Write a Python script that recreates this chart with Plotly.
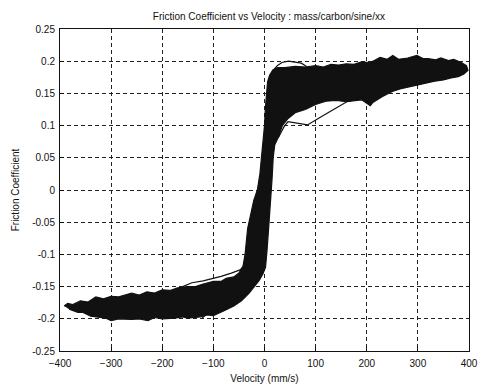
import plotly.graph_objects as go

# Envelope of the measured friction/velocity loops (traced clockwise)
band_velocity = [-392, -385, -375, -360, -345, -330, -315, -300, -285, -260, -245, -230, -215, -200,
                 -185, -170, -150, -135, -120, -100, -85, -75, -60, -50,
                 -42, -38, -33, -27, -21, -14, -9, -6, -3, 0, 2, 4, 6, 10, 16, 25, 40, 60,
                 80, 100, 115, 130, 145, 160, 175, 190, 205, 215, 226, 240, 251, 262, 280, 298, 310,
                 320, 335, 345, 360, 370, 385, 395,
                 398, 390, 379, 365, 350, 333, 315, 295, 280, 265, 250, 230, 212, 207, 190, 175, 160,
                 140, 120, 100, 80, 60, 45, 35, 27, 20, 17, 15, 12, 8, 5, 2, -3, -10, -20, -30,
                 -45, -60, -80, -100, -112, -125, -150, -160, -175, -200, -215, -228, -245, -260,
                 -285, -300, -310, -325, -340, -355, -365, -382]
band_friction = [-0.180, -0.176, -0.178, -0.172, -0.174, -0.166, -0.169, -0.165, -0.166, -0.160,
                 -0.163, -0.158, -0.160, -0.155, -0.156, -0.152, -0.150, -0.150, -0.146, -0.142,
                 -0.142, -0.137, -0.135, -0.129,
                 -0.118, -0.100, -0.060, -0.035, -0.016, 0.000, 0.025, 0.050, 0.075, 0.100,
                 0.130, 0.155, 0.168, 0.178, 0.186, 0.190, 0.190, 0.192,
                 0.191, 0.193, 0.191, 0.195, 0.194, 0.196, 0.195, 0.199, 0.198, 0.201, 0.206,
                 0.203, 0.209, 0.203, 0.205, 0.209, 0.204,
                 0.204, 0.202, 0.205, 0.201, 0.203, 0.198, 0.193,
                 0.186, 0.180, 0.176, 0.174, 0.171, 0.169, 0.166, 0.163, 0.160, 0.157, 0.153,
                 0.145, 0.136, 0.131, 0.140, 0.138, 0.137, 0.139, 0.138, 0.133, 0.125, 0.120,
                 0.110, 0.100, 0.082, 0.070, 0.050, 0.020, -0.020, -0.060, -0.093, -0.120,
                 -0.130, -0.140, -0.150, -0.160,
                 -0.172, -0.180, -0.188, -0.195, -0.194, -0.197, -0.199, -0.197, -0.199, -0.200,
                 -0.198, -0.203, -0.200, -0.201, -0.200, -0.203, -0.199, -0.197, -0.196, -0.190,
                 -0.190, -0.185]

# Individual stray loops visible as outlines
strayA_velocity = [27, 38, 46, 65, 84, 120, 161, 212]
strayA_friction = [0.081, 0.098, 0.106, 0.103, 0.101, 0.118, 0.137, 0.147]
strayB_velocity = [11, 14, 17, 25, 34, 47, 60, 72, 80, 94]
strayB_friction = [0.160, 0.175, 0.186, 0.193, 0.198, 0.200, 0.199, 0.197, 0.193, 0.183]
strayC_velocity = [-160, -142, -120, -104, -85, -65, -48, -36, -28, -25]
strayC_friction = [-0.150, -0.144, -0.141, -0.138, -0.134, -0.129, -0.124, -0.116, -0.105, -0.093]
strayD_velocity = [-122, -109, -94, -82, -71, -59, -50, -36, -25, -13, -5]
strayD_friction = [-0.199, -0.190, -0.182, -0.185, -0.174, -0.178, -0.166, -0.160, -0.152, -0.140, -0.125]

x_ticks = [-400, -300, -200, -100, 0, 100, 200, 300, 400]
y_ticks = [-0.25, -0.2, -0.15, -0.1, -0.05, 0, 0.05, 0.1, 0.15, 0.2, 0.25]
y_tick_labels = ["-0.25", "-0.2", "-0.15", "-0.1", "-0.05", "0", "0.05", "0.1", "0.15", "0.2", "0.25"]

fig = go.Figure()
fig.add_trace(go.Scatter(x=band_velocity, y=band_friction, mode="lines", fill="toself",
                         fillcolor="#111111", line=dict(color="#111111", width=1.2),
                         hoverinfo="skip", showlegend=False))
for vx, fy in [(strayA_velocity, strayA_friction), (strayB_velocity, strayB_friction),
               (strayC_velocity, strayC_friction), (strayD_velocity, strayD_friction)]:
    fig.add_trace(go.Scatter(x=vx, y=fy, mode="lines", line=dict(color="#111111", width=1.2),
                             hoverinfo="skip", showlegend=False))

font = "Liberation Sans, Arial, sans-serif"
axis_common = dict(showline=True, linecolor="#111111", linewidth=1, mirror=True,
                   ticks="inside", ticklen=4, tickcolor="#111111",
                   showgrid=True, gridcolor="#222222", gridwidth=1, griddash="4px,3px",
                   zeroline=False, tickfont=dict(family=font, size=10, color="#111111"))

fig.update_layout(
    width=488, height=392,
    margin=dict(l=60, r=10, t=29, b=41),
    paper_bgcolor="white", plot_bgcolor="white",
    title=dict(text="Friction Coefficient vs Velocity : mass/carbon/sine/xx",
               x=0.551, xanchor="center", y=0.957, yanchor="middle",
               font=dict(family=font, size=10, color="#111111")),
    xaxis=dict(range=[-400, 400], tickvals=x_ticks, ticklabelstandoff=3,
               title=dict(text="Velocity (mm/s)", standoff=6,
                          font=dict(family=font, size=10, color="#111111")),
               **axis_common),
    yaxis=dict(range=[-0.25, 0.25], tickvals=y_ticks, ticktext=y_tick_labels,
               ticklabelstandoff=2,
               title=dict(text="Friction Coefficient", standoff=10,
                          font=dict(family=font, size=10, color="#111111")),
               **axis_common),
)

fig.write_html("out.html")
